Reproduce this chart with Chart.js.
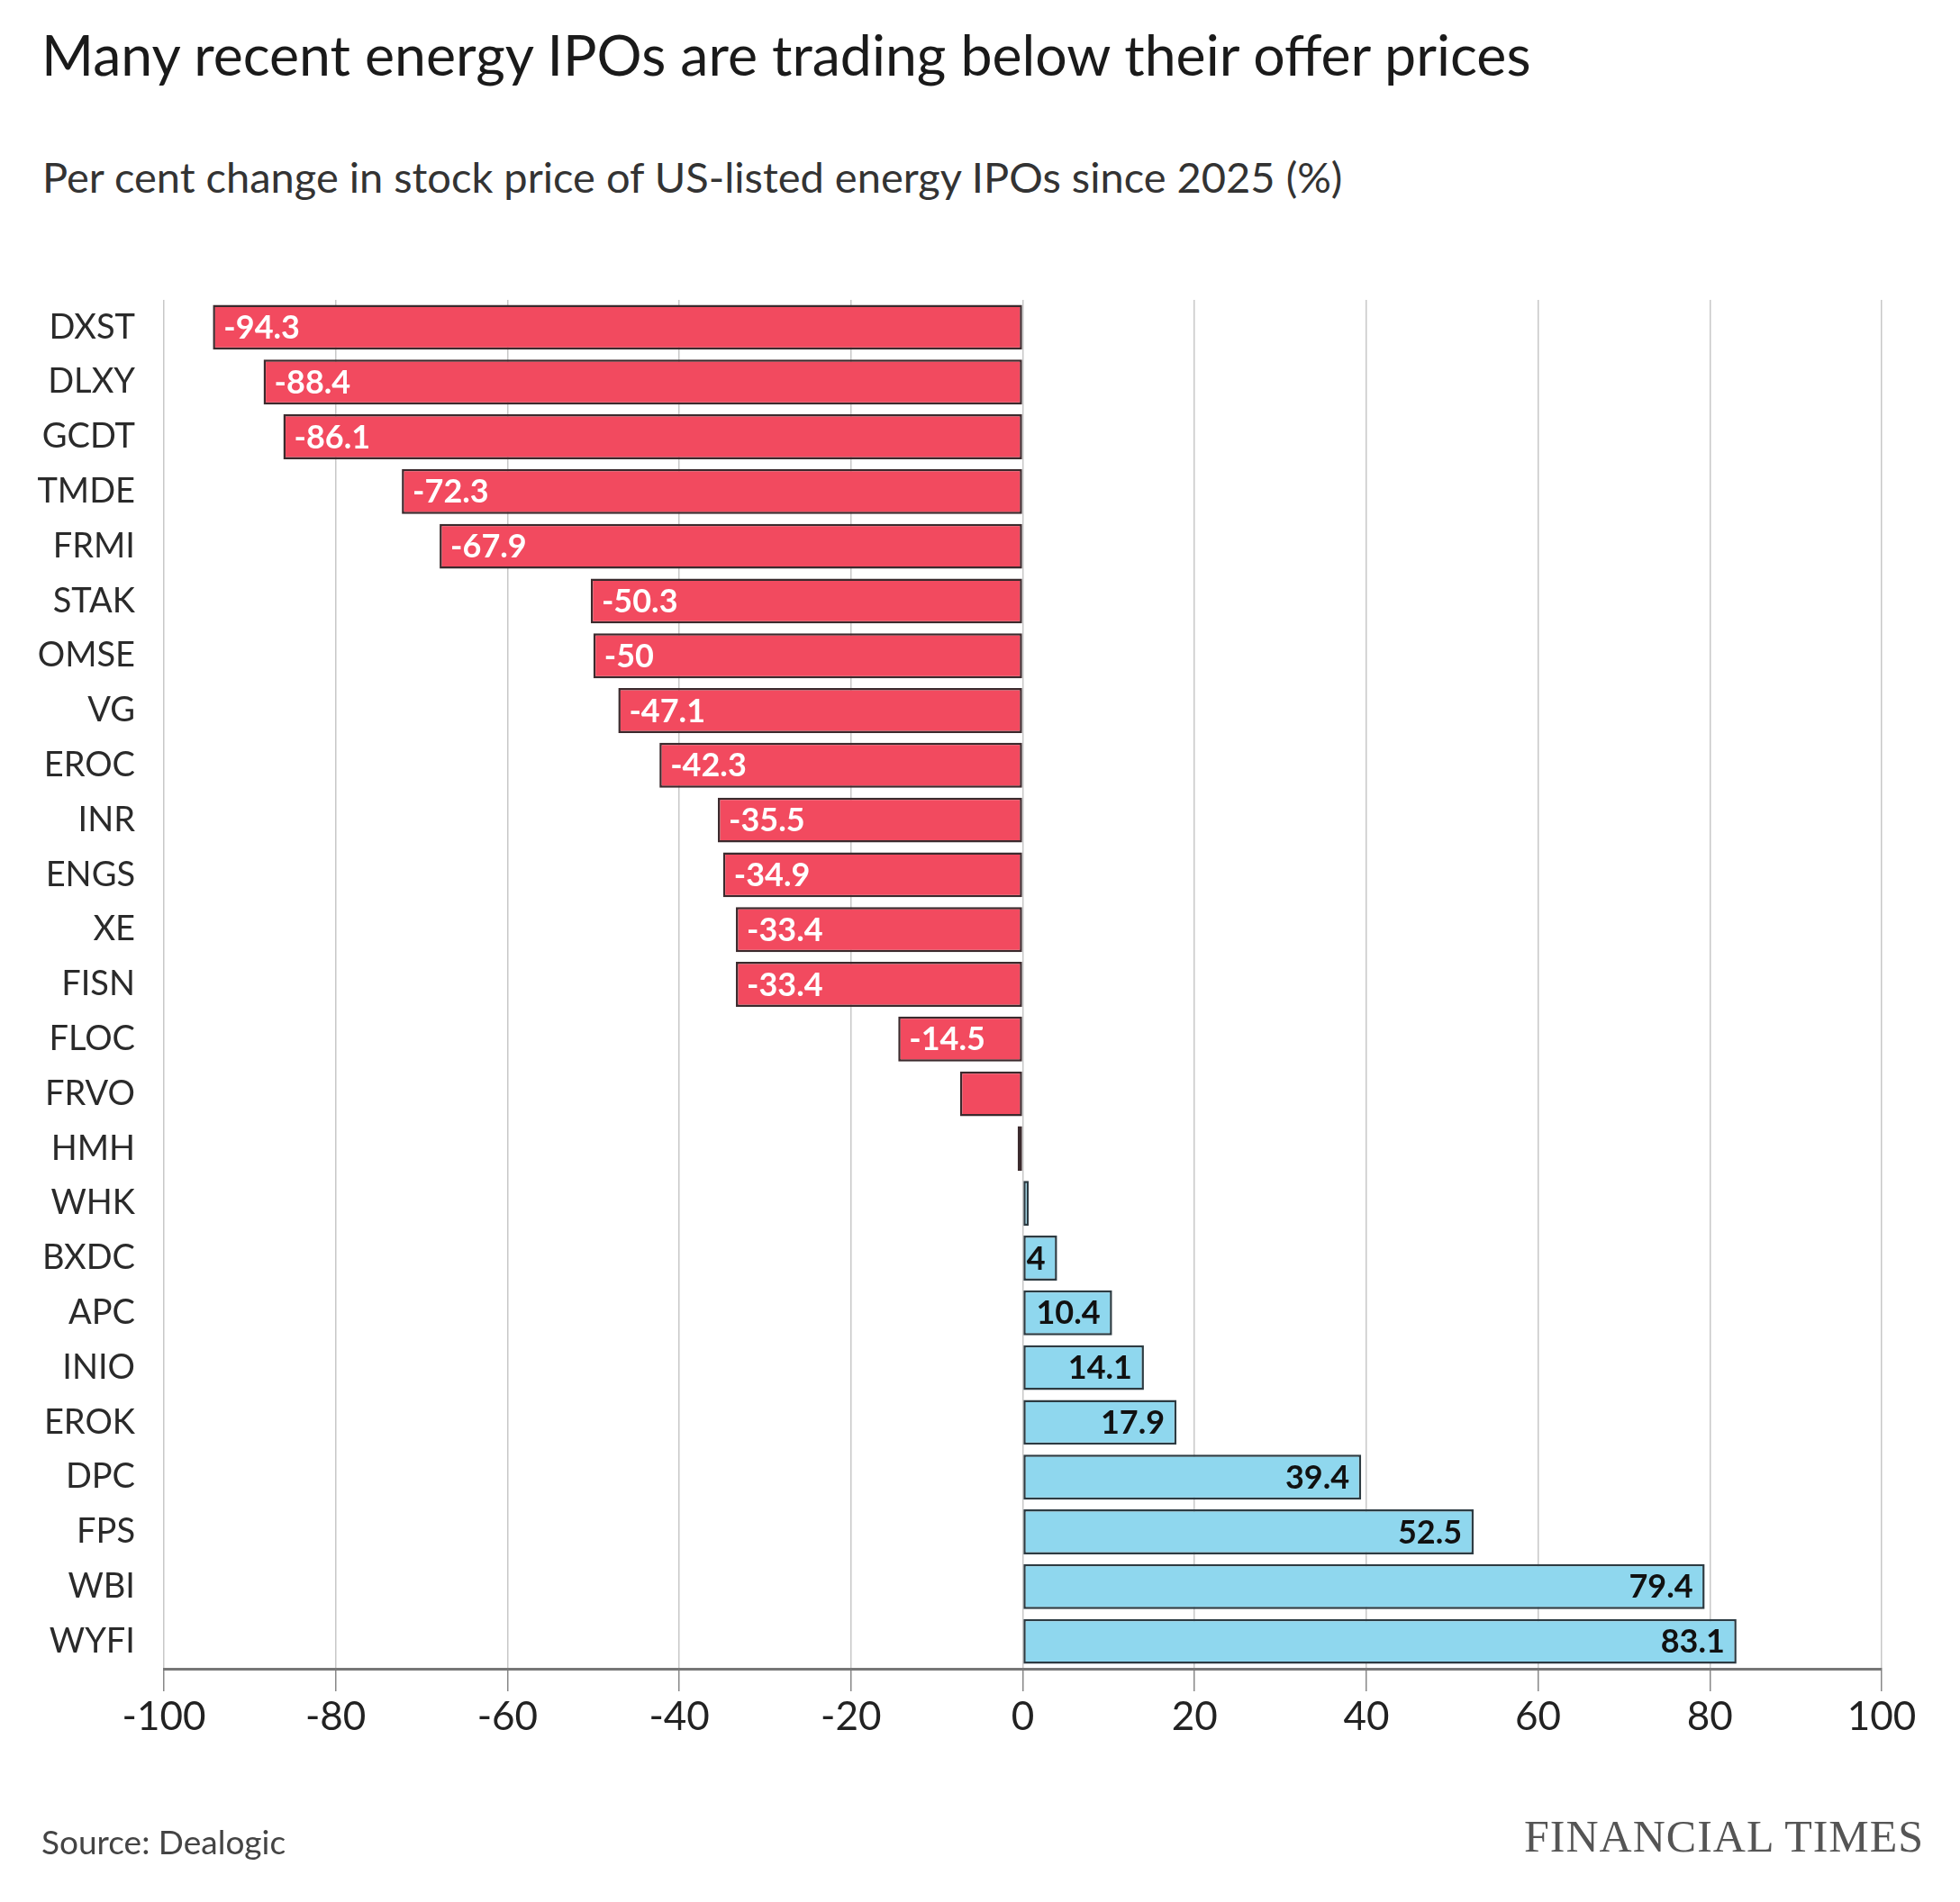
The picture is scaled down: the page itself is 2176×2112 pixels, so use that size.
<!DOCTYPE html>
<html>
<head>
<meta charset="utf-8">
<script src="https://cdn.jsdelivr.net/npm/chart.js@4"></script>
<style>
  body { margin: 0; background: #fff; width: 2176px; height: 2112px; position: relative; overflow: hidden; font-family: Lato, "Open Sans", sans-serif; }
  #title { position: absolute; left: 46px; top: 22px; font-size: 62.6px; color: #1a1a1a; white-space: nowrap; }
  #subtitle { position: absolute; left: 47px; top: 168px; font-size: 47px; color: #333; white-space: nowrap; }
  #source { position: absolute; left: 46px; top: 2022px; font-size: 37px; color: #444; }
  #ft { position: absolute; left: 1692px; top: 2010px; font-size: 50px; color: #555; font-family: "Liberation Serif", serif; letter-spacing: 1px; white-space: nowrap; }
  #wrap { position: absolute; left: 0; top: 0; width: 2176px; height: 2112px; }
</style>
</head>
<body>
<div id="title">Many recent energy IPOs are trading below their offer prices</div>
<div id="subtitle">Per cent change in stock price of US-listed energy IPOs since 2025 (%)</div>
<div id="wrap"><canvas id="chart" width="2176" height="2112"></canvas></div>
<div id="source">Source: Dealogic</div>
<div id="ft">FINANCIAL TIMES</div>
<script>
const tickers = ["DXST", "DLXY", "GCDT", "TMDE", "FRMI", "STAK", "OMSE", "VG", "EROC", "INR",
  "ENGS", "XE", "FISN", "FLOC", "FRVO", "HMH", "WHK", "BXDC", "APC", "INIO",
  "EROK", "DPC", "FPS", "WBI", "WYFI"];
const changes = [-94.3, -88.4, -86.1, -72.3, -67.9, -50.3, -50, -47.1, -42.3, -35.5,
  -34.9, -33.4, -33.4, -14.5, -7.3, -0.6, 0.7, 4, 10.4, 14.1,
  17.9, 39.4, 52.5, 79.4, 83.1];
// bars shown without a value label in the original
const unlabelled = ["FRVO", "HMH", "WHK"];
const xTicks = [-100, -80, -60, -40, -20, 0, 20, 40, 60, 80, 100];

const red = "#f24a5f";
const blue = "#8fd7ee";

//draw value labels inside the bars
const valueLabels = {
  id: "valueLabels",
  afterDatasetsDraw(chart) {
    const ctx = chart.ctx;
    const meta = chart.getDatasetMeta(0);
    ctx.save();
    ctx.font = "bold 36px Lato, 'Open Sans', sans-serif";
    ctx.textBaseline = "middle";
    meta.data.forEach((bar, i) => {
      if (unlabelled.includes(tickers[i])) return;
      const v = changes[i];
      const txt = String(v);
      if (v < 0) {
        ctx.fillStyle = "#fff";
        ctx.textAlign = "left";
        ctx.fillText(txt, bar.x + 12, bar.y + 1);
      } else {
        ctx.fillStyle = "#111";
        ctx.textAlign = "right";
        ctx.fillText(txt, bar.x - 13, bar.y + 1);
      }
    });
    ctx.restore();
  }
};

new Chart(document.getElementById("chart").getContext("2d"), {
  type: "bar",
  data: {
    labels: tickers,
    datasets: [
      {
        data: changes,
        backgroundColor: changes.map((v) => (v < 0 ? red : blue)),
        borderColor: changes.map((v) => (v < 0 ? "#3b2a2d" : "#2d3b42")),
        borderWidth: 2.5,
        borderSkipped: false,
        barPercentage: 0.82,
        categoryPercentage: 1,
      },
    ],
  },
  options: {
    indexAxis: "y",
    responsive: false,
    animation: false,
    devicePixelRatio: 1,
    layout: { padding: { top: 333, right: 87, bottom: 149, left: 0 } },
    plugins: {
      legend: { display: false },
      tooltip: { enabled: false },
    },
    scales: {
      x: {
        min: -100,
        max: 100,
        afterBuildTicks: (scale) => {
          scale.ticks = xTicks.map((v) => ({ value: v }));
        },
        afterFit: (scale) => {
          scale.height = 110;
        },
        grid: {
          color: "#c8c8c8",
          lineWidth: 1.5,
          tickLength: 25,
          tickColor: "#888",
          drawTicks: true,
        },
        border: { display: true, color: "#777", width: 3 },
        ticks: {
          color: "#222",
          font: { family: "Lato, 'Open Sans', sans-serif", size: 44 },
          padding: 2,
          maxRotation: 0,
        },
      },
      y: {
        afterFit: (scale) => {
          scale.width = 182;
        },
        grid: { display: false },
        border: { display: false },
        ticks: {
          color: "#2a2a2a",
          font: { family: "Lato, 'Open Sans', sans-serif", size: 38 },
          padding: 24,
        },
      },
    },
  },
  plugins: [valueLabels],
});
</script>
</body>
</html>
